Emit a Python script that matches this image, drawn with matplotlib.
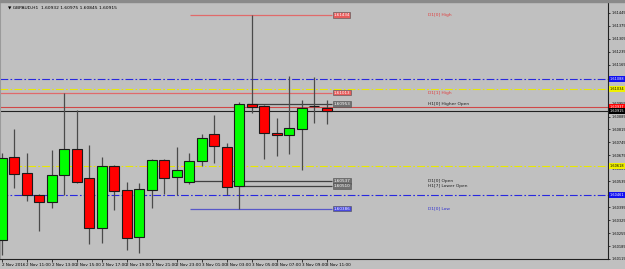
import numpy as np
import matplotlib
matplotlib.use("Agg")
import matplotlib.pyplot as plt
import matplotlib.transforms as mtransforms

# GBPAUD H1 candles, 2 Nov 09:00 .. 3 Nov 11:00
opens = [1.60218, 1.60667, 1.60580, 1.60461, 1.60423, 1.60569, 1.60710, 1.60553, 1.60283,
         1.60618, 1.60488, 1.60234, 1.60488, 1.60650, 1.60559, 1.60532, 1.60645, 1.60791,
         1.60721, 1.60510, 1.60953, 1.60942, 1.60796, 1.60786, 1.60818, 1.60942, 1.60932]
highs = [1.60688, 1.60818, 1.60688, 1.60467, 1.60705, 1.61013, 1.60921, 1.60732, 1.60667,
         1.60623, 1.60532, 1.60526, 1.60656, 1.60656, 1.60721, 1.60688, 1.60791, 1.60894,
         1.60742, 1.60964, 1.61434, 1.60948, 1.60878, 1.61104, 1.60975, 1.61099, 1.60975]
lows = [1.60137, 1.60499, 1.60429, 1.60267, 1.60391, 1.60461, 1.60526, 1.60196, 1.60202,
        1.60380, 1.60164, 1.60148, 1.60391, 1.60467, 1.60461, 1.60521, 1.60618, 1.60634,
        1.60461, 1.60386, 1.60905, 1.60656, 1.60672, 1.60683, 1.60596, 1.60850, 1.60845]
closes = [1.60661, 1.60575, 1.60461, 1.60423, 1.60569, 1.60710, 1.60532, 1.60283, 1.60618,
          1.60483, 1.60229, 1.60494, 1.60650, 1.60553, 1.60596, 1.60645, 1.60769, 1.60726,
          1.60505, 1.60953, 1.60937, 1.60796, 1.60786, 1.60823, 1.60932, 1.60942, 1.60915]

time_labels = ["2 Nov 2016", "2 Nov 11:00", "2 Nov 13:00", "2 Nov 15:00", "2 Nov 17:00",
               "2 Nov 19:00", "2 Nov 21:00", "2 Nov 23:00", "3 Nov 01:00", "3 Nov 03:00",
               "3 Nov 05:00", "3 Nov 07:00", "3 Nov 09:00", "3 Nov 11:00"]

price_ticks = [1.61445 - 0.0007 * k for k in range(20)]

# level lines: (name, price, start bar, line colour, text colour)
levels = [("D1[0] High", 1.61434, 15.1, "#e06a6a", "#e04040"),
          ("D1[1] High", 1.61013, -1.0, "#e06a6a", "#e04040"),
          ("H1[0] Higher Open", 1.60953, 19.6, "#404040", "#202020"),
          ("D1[0] Open", 1.60537, 14.8, "#404040", "#202020"),
          ("H1[7] Lower Open", 1.60510, 19.0, "#404040", "#202020"),
          ("D1[0] Low", 1.60386, 15.1, "#5858c8", "#3030d0")]
box_colours = {"#e06a6a": "#e85c5c", "#404040": "#707070", "#5858c8": "#4848e0"}

# full width dash-dot pivots and bid/ask
dashed = [(1.61088, "#2828e0"), (1.61034, "#e8e800"), (1.60618, "#e8e800"), (1.60461, "#2828e0")]
ask = 1.60937
bid = 1.60915

bg = "#c0c0c0"
fig = plt.figure(figsize=(6.25, 2.69), dpi=100, facecolor=bg)
ax = fig.add_axes([0, 10 / 269, 608 / 625, 257 / 269], facecolor=bg)
fig.patches.append(plt.Rectangle((0, 267 / 269), 1, 2 / 269, transform=fig.transFigure,
                                 color="#8a8a8a", zorder=0))

x = np.arange(len(opens))
o = np.array(opens); c = np.array(closes)
up = c >= o
ax.vlines(x, lows, highs, color="#4a4a4a", lw=0.9, zorder=3)
ax.bar(x[up], (c - o)[up], bottom=o[up], width=0.8, color="#00ff00", edgecolor="#1a1a1a",
       lw=0.8, zorder=4)
ax.bar(x[~up], (c - o)[~up], bottom=o[~up], width=0.8, color="#ff0000", edgecolor="#1a1a1a",
       lw=0.8, zorder=4)

for p, col in dashed:
    ax.axhline(p, color=col, lw=0.8, ls=(0, (7, 2, 1.5, 2)), zorder=2)
ax.axhline(ask, color="#d04848", lw=0.8, zorder=2)
ax.axhline(bid, color="#202020", lw=0.8, zorder=2)

end = 26.44
for name, p, start, lc, tc in levels:
    ax.hlines(p, start, end, color=lc, lw=0.9, zorder=2)
    ax.text(end + 0.1, p, "%.5f" % p, fontsize=3.0, color="white", va="center", ha="left",
            zorder=6, bbox=dict(boxstyle="square,pad=0.15", fc=box_colours[lc], ec="#505050", lw=0.4))
    ax.text(34.1, p, name, fontsize=3.2, color=tc, va="center", ha="left", zorder=6)

# price boxes on the right axis
ytr = mtransforms.blended_transform_factory(ax.transAxes, ax.transData)
for p, col, fc in [(1.61088, "white", "#1010f0"), (1.61034, "black", "#f0f000"),
                   (ask, "white", "#ff0000"), (bid, "white", "#000000"),
                   (1.60618, "black", "#f0f000"), (1.60461, "white", "#1010f0")]:
    ax.text(1.003, p, "%.5f" % p, transform=ytr, fontsize=2.5, color=col, va="center",
            ha="left", clip_on=False, zorder=7,
            bbox=dict(boxstyle="square,pad=0.2", fc=fc, ec="none"))

ax.text(0.013, 0.985, "\u25bc GBPAUD,H1  1.60932 1.60975 1.60845 1.60915", transform=ax.transAxes,
        fontsize=3.2, va="top", ha="left", color="black")

ax.set_xlim(-0.12, 48.52)
ax.set_ylim(1.60115, 1.61504)
ax.yaxis.tick_right()
ax.set_yticks(price_ticks)
ax.set_yticklabels(["%.5f" % v for v in price_ticks])
ax.set_xticks(np.arange(0, 27, 2))
ax.set_xticklabels(time_labels, ha="left")
ax.tick_params(axis="y", labelsize=2.5, length=1.5, width=0.5, pad=0.8, colors="black")
ax.tick_params(axis="x", labelsize=3.0, length=2, width=0.5, pad=1.0, colors="black")
ax.spines["top"].set_visible(False)
ax.spines["left"].set_color("#9a9a9a")
ax.spines["left"].set_linewidth(1.5)
ax.spines["right"].set_color("#202020")
ax.spines["bottom"].set_color("#202020")
ax.spines["right"].set_linewidth(0.8)
ax.spines["bottom"].set_linewidth(0.8)

fig.savefig("out.png", dpi=100, facecolor=bg)
